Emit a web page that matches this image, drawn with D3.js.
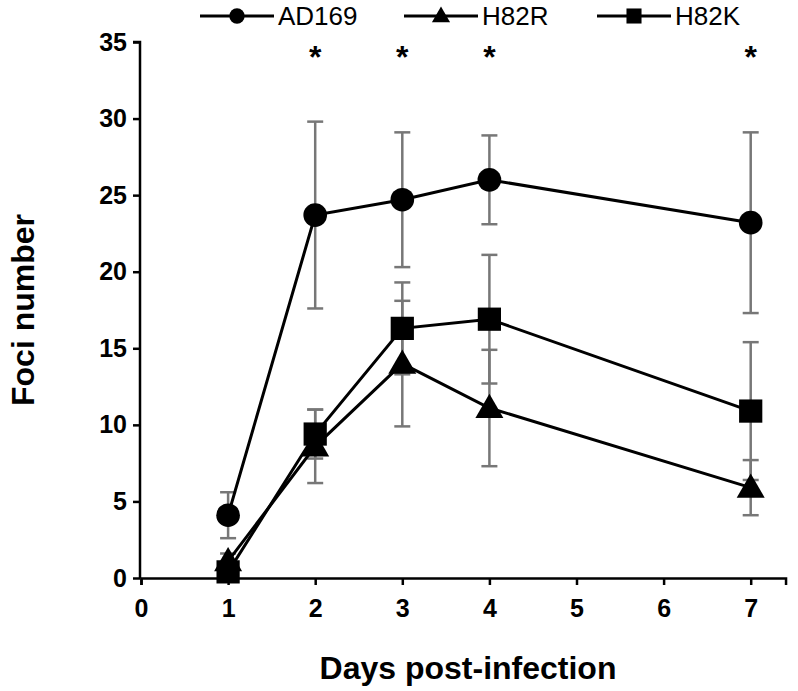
<!DOCTYPE html>
<html>
<head>
<meta charset="utf-8">
<script src="https://cdn.jsdelivr.net/npm/d3@7"></script>
<style>
  body { margin: 0; background: #fff; }
  svg { font-family: 'Liberation Sans', Arial, sans-serif; }
  .tick text { font-weight: bold; font-size: 25px; fill: #000; }
</style>
</head>
<body>
<svg id="graph" width="798" height="691"></svg>
<script>
// days post-infection where samples were taken
const days = [1, 2, 3, 4, 7];
const xTicks = [0, 1, 2, 3, 4, 5, 6, 7];
const yTicks = [0, 5, 10, 15, 20, 25, 30, 35];

const ad169Mean = [4.1, 23.7, 24.7, 26.0, 23.2];
const ad169Err = [1.5, 6.1, 4.4, 2.9, 5.9];
const h82rMean = [1.1, 8.6, 14.0, 11.1, 5.9];
const h82rErr = [0.5, 2.4, 4.1, 3.8, 1.8];
const h82kMean = [0.4, 9.4, 16.3, 16.9, 10.9];
const h82kErr = [0.3, 1.6, 3.0, 4.2, 4.5];

const starDays = [2, 3, 4, 7];

const series = [
  { name: 'H82R', mean: h82rMean, err: h82rErr, symbol: d3.symbolTriangle, size: 340 },
  { name: 'H82K', mean: h82kMean, err: h82kErr, symbol: d3.symbolSquare, size: 540 },
  { name: 'AD169', mean: ad169Mean, err: ad169Err, symbol: d3.symbolCircle, size: 440 }
];
const legendOrder = ['AD169', 'H82R', 'H82K'];

const svg = d3.select('#graph');

const x = d3.scaleLinear().domain([0, 7.4]).range([141, 141 + 7.4 * 87.1]);
const y = d3.scaleLinear().domain([0, 35]).range([578, 42]);

// axes
const yAxis = d3.axisLeft(y).tickValues(yTicks).tickSize(7).tickPadding(6);
const xAxis = d3.axisBottom(x).tickValues(xTicks).tickSize(7).tickPadding(14);

const gy = svg.append('g')
    .attr('transform', 'translate(140,0)')
    .call(yAxis);
gy.select('.domain').attr('d', `M-7,${y(35)}H0V${y(0)}`);

const gx = svg.append('g')
    .attr('transform', `translate(0,${y(0)})`)
    .call(xAxis);

[gx, gy].forEach(g => {
  g.select('.domain').attr('stroke', '#000').attr('stroke-width', 2.5);
  g.selectAll('.tick line').attr('stroke', '#000').attr('stroke-width', 2.5);
});

// error bars
const errG = svg.append('g');
series.forEach(s => {
  days.forEach((d, i) => {
    const hi = y(s.mean[i] + s.err[i]);
    const lo = y(Math.max(0, s.mean[i] - s.err[i]));
    const cx = x(d);
    errG.append('line').attr('x1', cx).attr('x2', cx).attr('y1', hi).attr('y2', lo);
    errG.append('line').attr('x1', cx - 8).attr('x2', cx + 8).attr('y1', hi).attr('y2', hi);
    errG.append('line').attr('x1', cx - 8).attr('x2', cx + 8).attr('y1', lo).attr('y2', lo);
  });
});
errG.selectAll('line').attr('stroke', '#777').attr('stroke-width', 2.5);

// lines and markers
const line = d3.line().x((d, i) => x(days[i])).y(d => y(d));
series.forEach(s => {
  svg.append('path')
      .attr('d', line(s.mean))
      .attr('fill', 'none')
      .attr('stroke', '#000')
      .attr('stroke-width', 3);
});
series.forEach(s => {
  svg.append('g').selectAll('path')
      .data(s.mean)
    .enter().append('path')
      .attr('d', d3.symbol().type(s.symbol).size(s.size))
      .attr('transform', (d, i) => `translate(${x(days[i])},${y(d) + (s.symbol === d3.symbolTriangle ? 2 : 0)})`)
      .attr('fill', '#000');
});

// significance stars
svg.append('g').selectAll('text')
    .data(starDays)
  .enter().append('text')
    .attr('x', d => x(d))
    .attr('y', 68)
    .attr('text-anchor', 'middle')
    .attr('font-size', 32)
    .attr('font-weight', 'bold')
    .text('*');

// axis titles
svg.append('text')
    .attr('transform', `translate(34,${(y(0) + y(35)) / 2}) rotate(-90)`)
    .attr('text-anchor', 'middle')
    .attr('font-size', 32)
    .attr('font-weight', 'bold')
    .text('Foci number');

svg.append('text')
    .attr('x', 468)
    .attr('y', 679)
    .attr('text-anchor', 'middle')
    .attr('font-size', 32)
    .attr('font-weight', 'bold')
    .text('Days post-infection');

// legend
const legendX = [200, 404, 597];
const legend = svg.append('g').selectAll('g')
    .data(legendOrder.map(n => series.find(s => s.name === n)))
  .enter().append('g')
    .attr('transform', (d, i) => `translate(${legendX[i]},16)`);
legend.append('line')
    .attr('x1', 0).attr('x2', 74)
    .attr('stroke', '#000').attr('stroke-width', 3);
legend.append('path')
    .attr('d', d => d3.symbol().type(d.symbol).size(d.size * 0.42)())
    .attr('transform', d => `translate(37,${d.symbol === d3.symbolTriangle ? 1 : 0})`)
    .attr('fill', '#000');
legend.append('text')
    .attr('x', 78)
    .attr('y', 9)
    .attr('font-size', 26)
    .text(d => d.name);
</script>
</body>
</html>
